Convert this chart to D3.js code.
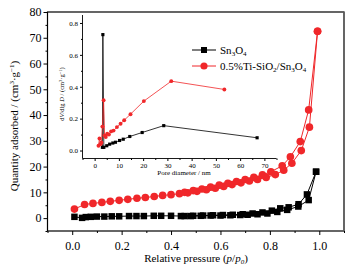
<!DOCTYPE html>
<html>
<head>
<meta charset="utf-8">
<script src="https://cdn.jsdelivr.net/npm/d3@7"></script>
<style>
  html, body { margin: 0; padding: 0; background: #fff; }
  svg text { font-family: "Liberation Serif", "Times New Roman", "DejaVu Serif", serif; fill: #000; }
</style>
</head>
<body>
<div id="chart"></div>
<script>
// N2 adsorption-desorption isotherms + pore size distribution (inset)

// main chart: relative pressure p/p0 vs quantity adsorbed
const snAdsP = [0.009,0.04,0.055,0.075,0.10,0.13,0.16,0.19,0.23,0.26,0.29,0.33,0.36,0.40,0.44,0.48,0.52,0.56,0.60,0.64,0.68,0.71,0.75,0.79,0.83,0.87,0.915,0.957,0.987];
const snAdsQ = [0.5,0.1,0.4,0.5,0.6,0.6,0.7,0.7,0.8,0.8,0.8,0.9,0.9,0.9,0.8,0.8,0.9,1.0,1.0,1.1,1.2,1.3,1.5,1.8,2.4,3.2,4.5,7.0,18.0];
const snDesP = [0.987,0.95,0.916,0.876,0.842,0.808,0.77,0.73,0.69,0.65,0.61,0.57,0.53,0.49,0.455];
const snDesQ = [18.0,9.2,5.4,4.2,3.8,2.9,2.2,1.8,1.5,1.3,1.2,1.1,1.0,0.9,0.8];

const tiAdsP = [0.009,0.05,0.084,0.12,0.154,0.19,0.225,0.262,0.296,0.332,0.366,0.40,0.434,0.468,0.505,0.543,0.579,0.613,0.647,0.683,0.717,0.75,0.785,0.822,0.856,0.889,0.927,0.96,0.993];
const tiAdsQ = [3.5,5.3,5.7,6.1,6.5,6.9,7.3,7.7,8.0,8.4,8.8,9.1,9.5,9.8,10.4,11.0,11.6,12.3,13.0,13.7,14.4,15.0,15.8,16.9,18.6,21.3,26.2,35.3,72.5];
const tiDesP = [0.993,0.957,0.923,0.883,0.85,0.804,0.77,0.735,0.70,0.665,0.63,0.595,0.56,0.525,0.49,0.455];
const tiDesQ = [72.5,42.0,29.7,23.8,20.3,18.0,16.8,15.8,15.0,14.2,13.5,12.8,12.0,11.3,10.7,10.0];

// inset: pore diameter (nm) vs dV/dlgD
const snPoreD = [3.2,3.4,3.8,5.0,6.2,7.5,8.6,10.3,11.8,14.5,19.6,28.5,67.0];
const snPoreV = [0.02,0.727,0.02,0.03,0.04,0.047,0.052,0.063,0.071,0.088,0.113,0.156,0.08];
const tiPoreD = [1.6,2.0,2.4,2.8,3.2,3.7,4.1,4.6,5.2,5.9,6.8,7.8,9.2,10.7,12.2,14.8,20.3,31.6,53.5];
const tiPoreV = [0.03,0.075,0.04,0.05,0.15,0.315,0.095,0.085,0.105,0.10,0.12,0.125,0.147,0.168,0.19,0.228,0.31,0.435,0.383];

const xTicks = [0.0,0.2,0.4,0.6,0.8,1.0];
const yTicks = [0,10,20,30,40,50,60,70,80];
const insetXTicks = [0,10,20,30,40,50,60,70];
const insetYTicks = [0.0,0.2,0.4,0.6,0.8];

const legendNames = ["Sn3O4", "0.5%Ti-SiO2/Sn3O4"];
const BLACK = "#000", RED = "#f0272a";

const W = 353, H = 272;
const svg = d3.select("#chart").append("svg").attr("width", W).attr("height", H)
  .attr("font-family", "Liberation Serif, serif");

const x = d3.scaleLinear().domain([-0.1, 1.1]).range([47.5, 344]);
const y = d3.scaleLinear().domain([-5, 80]).range([231, 12]);

function zip(a, b) { return a.map((v, i) => [v, b[i]]); }

// axes
function styleAxis(g, fs) {
  g.attr("font-family", null);
  g.select(".domain").remove();
  g.selectAll("line").attr("stroke", "#000").attr("stroke-width", 1);
  g.selectAll("text").attr("font-size", fs);
}

const minorX = d3.range(-0.1, 1.11, 0.1).filter(v => !xTicks.some(t => Math.abs(t - v) < 1e-6));
const minorY = d3.range(-5, 81, 5).filter(v => !yTicks.includes(v));

svg.append("g").attr("transform", "translate(0,231)")
  .call(d3.axisBottom(x).tickValues(xTicks).tickFormat(d3.format(".1f")).tickSize(4).tickSizeOuter(0).tickPadding(6))
  .call(g => styleAxis(g, 12));
svg.append("g").attr("transform", "translate(0,231)")
  .call(d3.axisBottom(x).tickValues(minorX).tickFormat("").tickSize(2).tickSizeOuter(0))
  .call(g => styleAxis(g, 12));
svg.append("g").attr("transform", "translate(47.5,0)")
  .call(d3.axisLeft(y).tickValues(yTicks).tickSize(4).tickSizeOuter(0).tickPadding(2))
  .call(g => styleAxis(g, 12));
svg.append("g").attr("transform", "translate(47.5,0)")
  .call(d3.axisLeft(y).tickValues(minorY).tickFormat("").tickSize(2).tickSizeOuter(0))
  .call(g => styleAxis(g, 12));

// frame
svg.append("rect").attr("x", 47.5).attr("y", 12).attr("width", 344 - 47.5).attr("height", 231 - 12)
  .attr("fill", "none").attr("stroke", "#000").attr("stroke-width", 1.2);
svg.append("line").attr("x1", 344).attr("x2", 344).attr("y1", 12).attr("y2", 231)
  .attr("stroke", "#666").attr("stroke-width", 1.6);

// axis titles
const xt = svg.append("text").attr("x", 196).attr("y", 262).attr("text-anchor", "middle").attr("font-size", 11);
xt.append("tspan").text("Relative pressure (");
xt.append("tspan").attr("font-style", "italic").text("p");
xt.append("tspan").text("/");
xt.append("tspan").attr("font-style", "italic").text("p");
xt.append("tspan").attr("font-size", 7).attr("font-style", "italic").attr("dy", 2).text("0");
xt.append("tspan").attr("dy", -2).text(")");

const yt = svg.append("text").attr("transform", "translate(18,126) rotate(-90)").attr("text-anchor", "middle").attr("font-size", 11);
yt.append("tspan").text("Quantity adsorbed / (cm");
yt.append("tspan").attr("font-size", 7).attr("dy", -4).text("3");
yt.append("tspan").attr("dy", 4).text("·g");
yt.append("tspan").attr("font-size", 7).attr("dy", -4).text("−1");
yt.append("tspan").attr("dy", 4).text(")");

// series drawing
function drawSeries(pts, color, shape, size, lw, sx, sy, parent) {
  const lg = d3.line().x(d => sx(d[0])).y(d => sy(d[1]));
  parent.append("path").datum(pts).attr("d", lg).attr("fill", "none")
    .attr("stroke", color).attr("stroke-width", lw);
  const sym = d3.symbol().type(shape).size(size);
  parent.append("g").selectAll("path").data(pts).enter().append("path")
    .attr("d", sym)
    .attr("transform", d => `translate(${sx(d[0])},${sy(d[1])})`)
    .attr("fill", color);
}

const main = svg.append("g");
drawSeries(zip(snAdsP, snAdsQ), BLACK, d3.symbolSquare, 42, 1, x, y, main);
drawSeries(zip(snDesP, snDesQ), BLACK, d3.symbolSquare, 42, 1, x, y, main);
drawSeries(zip(tiAdsP, tiAdsQ), RED, d3.symbolCircle, 46, 1, x, y, main);
drawSeries(zip(tiDesP, tiDesQ), RED, d3.symbolCircle, 46, 1, x, y, main);

// legend
legendNames.forEach((name, i) => {
  const ly = 50 + i * 16;
  const color = i === 0 ? BLACK : RED;
  svg.append("line").attr("x1", 192).attr("x2", 216).attr("y1", ly).attr("y2", ly)
    .attr("stroke", color).attr("stroke-width", 1);
  svg.append("path").attr("d", d3.symbol().type(i === 0 ? d3.symbolSquare : d3.symbolCircle).size(i === 0 ? 36 : 40)())
    .attr("transform", `translate(204,${ly})`).attr("fill", color);
  const t = svg.append("text").attr("x", 220).attr("y", ly + 4).attr("font-size", 11);
  // digits after Sn / O are subscripts
  const re = /(Sn|O)(\d)/g;
  let last = 0, m, sub = false;
  while ((m = re.exec(name)) !== null) {
    t.append("tspan").attr("dy", sub ? -2 : 0).text(name.slice(last, m.index) + m[1]);
    t.append("tspan").attr("font-size", 7).attr("dy", 2).text(m[2]);
    sub = true;
    last = re.lastIndex;
  }
  if (last < name.length) t.append("tspan").attr("dy", sub ? -2 : 0).text(name.slice(last));
});

// inset
const ix = d3.scaleLinear().domain([-5, 75]).range([82.5, 276.5]);
const iy = d3.scaleLinear().domain([-0.05, 0.85]).range([158.5, 15]);
const minorIX = d3.range(-5, 76, 5).filter(v => !insetXTicks.includes(v));
const minorIY = d3.range(0.1, 0.85, 0.2);

const inset = svg.append("g");
inset.append("g").attr("transform", "translate(0,158.5)")
  .call(d3.axisBottom(ix).tickValues(insetXTicks).tickSize(2.5).tickSizeOuter(0).tickPadding(2))
  .call(g => styleAxis(g, 7));
inset.append("g").attr("transform", "translate(0,158.5)")
  .call(d3.axisBottom(ix).tickValues(minorIX).tickFormat("").tickSize(1.5).tickSizeOuter(0))
  .call(g => styleAxis(g, 7));
inset.append("g").attr("transform", "translate(82.5,0)")
  .call(d3.axisLeft(iy).tickValues(insetYTicks).tickFormat(d3.format(".1f")).tickSize(2.5).tickSizeOuter(0).tickPadding(2))
  .call(g => styleAxis(g, 7));
inset.append("g").attr("transform", "translate(82.5,0)")
  .call(d3.axisLeft(iy).tickValues(minorIY).tickFormat("").tickSize(1.5).tickSizeOuter(0))
  .call(g => styleAxis(g, 7));
inset.append("line").attr("x1", 82.5).attr("x2", 82.5).attr("y1", 15).attr("y2", 158.5).attr("stroke", "#000").attr("stroke-width", 0.9);
inset.append("line").attr("x1", 82.5).attr("x2", 276.5).attr("y1", 158.5).attr("y2", 158.5).attr("stroke", "#000").attr("stroke-width", 0.9);

inset.append("text").attr("x", 184).attr("y", 175).attr("text-anchor", "middle").attr("font-size", 7)
  .text("Pore diameter / nm");
const iyt = inset.append("text").attr("transform", "translate(64,94) rotate(-90)").attr("text-anchor", "middle").attr("font-size", 6.5);
iyt.append("tspan").text("d");
iyt.append("tspan").attr("font-style", "italic").text("V");
iyt.append("tspan").text("/dlg ");
iyt.append("tspan").attr("font-style", "italic").text("D");
iyt.append("tspan").text(" / (cm");
iyt.append("tspan").attr("font-size", 4.5).attr("dy", -2.5).text("3");
iyt.append("tspan").attr("dy", 2.5).text("·g");
iyt.append("tspan").attr("font-size", 4.5).attr("dy", -2.5).text("−1");
iyt.append("tspan").attr("dy", 2.5).text(")");

drawSeries(zip(snPoreD, snPoreV), BLACK, d3.symbolSquare, 10, 0.8, ix, iy, inset);
drawSeries(zip(tiPoreD, tiPoreV), RED, d3.symbolCircle, 12, 0.8, ix, iy, inset);
</script>
</body>
</html>
